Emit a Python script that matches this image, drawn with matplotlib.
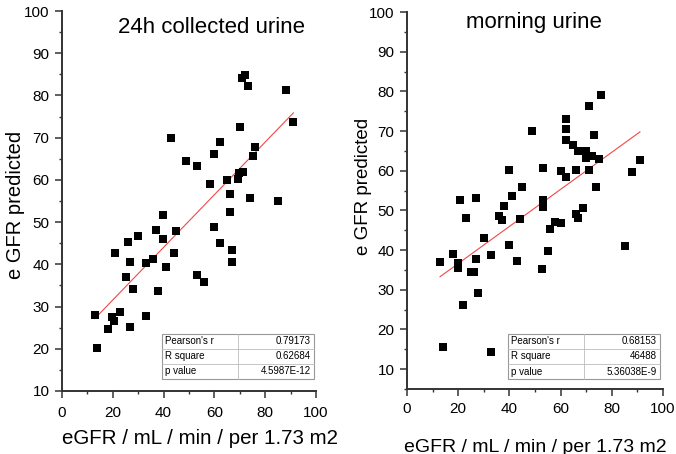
import matplotlib
matplotlib.use("Agg")
import matplotlib.pyplot as plt
from matplotlib.patches import Rectangle
from matplotlib.ticker import MultipleLocator
import numpy as np

plt.rcParams['font.family'] = ['Liberation Sans', 'DejaVu Sans']

# ---------------- data ----------------
left_title = "24h collected urine"
right_title = "morning urine"
x_label = "eGFR / mL / min / per 1.73 m2"
y_label = "e GFR predicted"

left_x = [72.0, 71.0, 73.1, 88.2, 91.1, 43.0, 70.1, 62.1, 60.0, 76.1, 75.1, 48.9, 53.0,
          71.1, 69.7, 65.1, 69.2, 58.1, 66.1, 74.0, 85.2, 66.1, 39.9, 60.0, 37.0, 45.0,
          29.9, 39.9, 26.0, 62.1, 21.0, 44.0, 67.1, 26.9, 32.9, 35.9, 40.9, 67.1, 25.1,
          53.0, 56.0, 28.0, 37.9, 12.9, 19.8, 23.0, 32.9, 18.0, 26.9, 13.9, 20.3]
left_y = [84.9, 84.1, 82.3, 81.3, 73.7, 69.9, 72.6, 69.0, 66.2, 67.9, 65.7, 64.4, 63.2,
          61.9, 61.7, 59.9, 60.1, 59.1, 56.7, 55.7, 55.1, 52.5, 51.8, 48.9, 48.2, 47.8,
          46.6, 45.9, 45.2, 45.0, 42.8, 42.7, 43.3, 40.6, 40.3, 41.3, 39.4, 40.6, 36.9,
          37.5, 35.7, 34.2, 33.6, 28.0, 27.6, 28.7, 27.8, 24.7, 25.2, 20.1, 26.5]

right_x = [75.8, 71.0, 62.0, 62.0, 48.9, 72.9, 62.0, 64.7, 66.8, 70.1, 70.1, 72.2, 74.9,
           91.0, 40.0, 53.1, 60.0, 65.9, 71.0, 88.0, 62.0, 44.8, 74.0, 26.9, 20.7, 40.9,
           53.1, 53.1, 38.0, 36.1, 37.1, 44.0, 22.9, 68.8, 65.9, 66.9, 57.9, 60.3, 56.0,
           30.1, 40.0, 55.0, 85.0, 17.9, 32.9, 12.9, 19.9, 27.1, 19.9, 25.0, 26.2, 42.9,
           52.9, 27.8, 22.0, 13.9, 32.9]
right_y = [79.1, 76.4, 73.1, 70.5, 69.9, 69.1, 67.7, 66.4, 65.0, 65.0, 63.2, 63.7, 62.9,
           62.7, 60.3, 60.7, 60.0, 60.3, 60.3, 59.7, 58.3, 55.8, 55.9, 53.2, 52.6, 53.6,
           52.6, 50.8, 51.1, 48.6, 47.6, 47.8, 48.0, 50.5, 49.0, 48.2, 47.0, 46.9, 45.3,
           43.1, 41.4, 39.9, 41.0, 39.0, 38.8, 37.1, 36.7, 37.7, 35.4, 34.5, 34.5, 37.2,
           35.2, 29.1, 26.1, 15.5, 14.4]

# linear fit (slope, intercept)
left_fit = (0.6232, 19.1)
right_fit = (0.4673, 27.27)

left_stats_names = ["Pearson's r", "R square", "p value"]
left_stats_vals = ["0.79173", "0.62684", "4.5987E-12"]
right_stats_names = ["Pearson's r", "R square", "p value"]
right_stats_vals = ["0.68153", "46488", "5.36038E-9"]

left_xticks = [0, 20, 40, 60, 80, 100]
left_yticks = [10, 20, 30, 40, 50, 60, 70, 80, 90, 100]
right_yticks = [10, 20, 30, 40, 50, 60, 70, 80, 90, 100]

# ---------------- figure ----------------
W, H = 676, 454
fig = plt.figure(figsize=(W / 100, H / 100), dpi=100)

def px_axes(x0, y0, x1, y1):
    return fig.add_axes([x0 / W, 1 - y1 / H, (x1 - x0) / W, (y1 - y0) / H])

axL = px_axes(62, 11, 316, 391)
axR = px_axes(407, 12, 663, 389)

def style(ax, ylim, yticks, xpad):
    ax.set_xlim(0, 100)
    ax.set_ylim(*ylim)
    ax.set_xticks(left_xticks)
    ax.set_yticks(yticks)
    ax.xaxis.set_minor_locator(MultipleLocator(10))
    ax.yaxis.set_minor_locator(MultipleLocator(5))
    for s in ['top', 'right']:
        ax.spines[s].set_visible(False)
    for s in ['left', 'bottom']:
        ax.spines[s].set_linewidth(1.4)
        ax.spines[s].set_color('#333333')
    ax.tick_params(which='major', direction='out', length=5, width=1.1, color='#333333',
                   labelsize=11, pad=4)
    ax.tick_params(axis='x', which='major', pad=xpad)
    ax.tick_params(which='minor', direction='out', length=2.5, width=1.0, color='#333333')

def draw(ax, xs, ys, fit):
    ax.plot(xs, ys, linestyle='none', marker='s', markersize=6, color='black',
            markeredgewidth=0, zorder=3, clip_on=False)
    fx = np.array([min(xs), max(xs)])
    ax.plot(fx, fit[0] * fx + fit[1], color='#f04848', linewidth=0.8, zorder=2)

def table(ax, names, vals, x0, y0, x1, y1):
    n = len(names)
    rh = (y1 - y0) / n
    xm = (x0 + x1) / 2
    ax.add_patch(Rectangle((x0, y0), x1 - x0, y1 - y0, transform=ax.transAxes,
                           facecolor='white', edgecolor='#999999', linewidth=0.8,
                           zorder=5))
    for i in range(1, n):
        ax.plot([x0, x1], [y0 + i * rh] * 2, transform=ax.transAxes, color='#bbbbbb',
                linewidth=0.6, zorder=6)
    ax.plot([xm, xm], [y0, y1], transform=ax.transAxes, color='#bbbbbb',
            linewidth=0.6, zorder=6)
    for i, (nm, v) in enumerate(zip(names, vals)):
        yc = y1 - (i + 0.5) * rh
        ax.text(x0 + 0.012, yc, nm, transform=ax.transAxes, ha='left', va='center',
                fontsize=7, zorder=7)
        ax.text(x1 - 0.012, yc, v, transform=ax.transAxes, ha='right', va='center',
                fontsize=7, zorder=7)

style(axL, (10, 100), left_yticks, 5.5)
style(axR, (5, 100), right_yticks, 4.5)
draw(axL, left_x, left_y, left_fit)
draw(axR, right_x, right_y, right_fit)

table(axL, left_stats_names, left_stats_vals, 0.3925, 0.0316, 0.992, 0.15)
table(axR, right_stats_names, right_stats_vals, 0.3945, 0.0265, 0.988, 0.146)

axL.text(0.587, 0.942, left_title, transform=axL.transAxes, ha='center',
         va='baseline', fontsize=16)
axR.text(0.496, 0.957, right_title, transform=axR.transAxes, ha='center',
         va='baseline', fontsize=16)

fig.text(200 / W, 1 - 438 / H, x_label, ha='center', va='center', fontsize=14.8)
fig.text(535 / W, 1 - 447 / H, x_label, ha='center', va='center', fontsize=14)
fig.text(16 / W, 1 - 205 / H, y_label, ha='center', va='center', rotation=90,
         fontsize=14.5)
fig.text(363 / W, 1 - 186 / H, y_label, ha='center', va='center', rotation=90,
         fontsize=13.5)

fig.savefig("out.png", dpi=100)
